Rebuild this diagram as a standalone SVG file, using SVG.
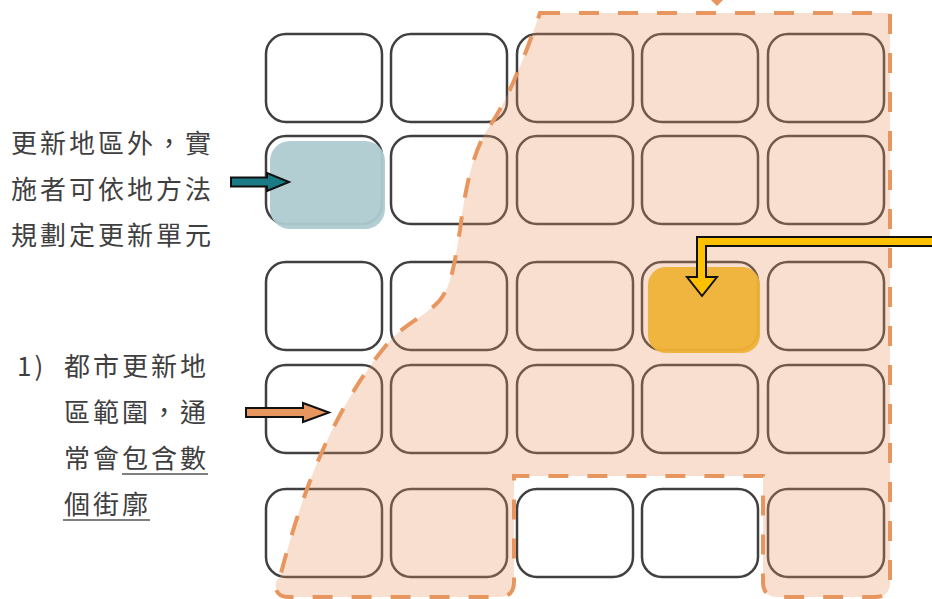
<svg xmlns="http://www.w3.org/2000/svg" width="932" height="599" viewBox="0 0 932 599" xml:lang="zh-TW" lang="zh-TW">
<style>
.box{fill:#ffffff;stroke:#404040;stroke-width:2.5}
.lbl{font-family:"Noto Sans CJK TC","Noto Sans CJK SC",sans-serif;font-size:26px;font-weight:400;fill:#3f3f3f;letter-spacing:3px}
.ul{stroke:#555555;stroke-width:1.6}
.arr{stroke:#111111;stroke-width:2;stroke-linejoin:miter}
</style>
<rect width="932" height="599" fill="#ffffff"/>
<g id="grid">
<g id="b11"><rect class="box" x="266" y="34" width="116" height="88" rx="20"/></g>
<g id="b12"><rect class="box" x="391" y="34" width="116" height="88" rx="20"/></g>
<g id="b13"><rect class="box" x="517" y="34" width="116" height="88" rx="20"/></g>
<g id="b14"><rect class="box" x="642" y="34" width="116" height="88" rx="20"/></g>
<g id="b15"><rect class="box" x="768" y="34" width="116" height="88" rx="20"/></g>
<g id="b21"><rect class="box" x="266" y="136" width="116" height="88" rx="20"/><rect x="270" y="141" width="115" height="88" rx="20" fill="#afcbd0" opacity="0.95"/></g>
<g id="b22"><rect class="box" x="391" y="136" width="116" height="88" rx="20"/></g>
<g id="b23"><rect class="box" x="517" y="136" width="116" height="88" rx="20"/></g>
<g id="b24"><rect class="box" x="642" y="136" width="116" height="88" rx="20"/></g>
<g id="b25"><rect class="box" x="768" y="136" width="116" height="88" rx="20"/></g>
<g id="b31"><rect class="box" x="266" y="262" width="116" height="88" rx="20"/></g>
<g id="b32"><rect class="box" x="391" y="262" width="116" height="88" rx="20"/></g>
<g id="b33"><rect class="box" x="517" y="262" width="116" height="88" rx="20"/></g>
<g id="b34"><rect class="box" x="642" y="262" width="116" height="88" rx="20"/></g>
<g id="b35"><rect class="box" x="768" y="262" width="116" height="88" rx="20"/></g>
<g id="b41"><rect class="box" x="266" y="365" width="116" height="88" rx="20"/></g>
<g id="b42"><rect class="box" x="391" y="365" width="116" height="88" rx="20"/></g>
<g id="b43"><rect class="box" x="517" y="365" width="116" height="88" rx="20"/></g>
<g id="b44"><rect class="box" x="642" y="365" width="116" height="88" rx="20"/></g>
<g id="b45"><rect class="box" x="768" y="365" width="116" height="88" rx="20"/></g>
<g id="b51"><rect class="box" x="266" y="489" width="116" height="88" rx="20"/></g>
<g id="b52"><rect class="box" x="391" y="489" width="116" height="88" rx="20"/></g>
<g id="b53"><rect class="box" x="517" y="489" width="116" height="88" rx="20"/></g>
<g id="b54"><rect class="box" x="642" y="489" width="116" height="88" rx="20"/></g>
<g id="b55"><rect class="box" x="768" y="489" width="116" height="88" rx="20"/></g>
</g>
<g id="region">
<path d="M 540,13 L 890,13 L 890,582 Q 890,597 875,597 L 778,597 Q 763,597 763,582 L 763,476 L 514,476 L 514,582 Q 514,597 499,597 L 289,597 Q 274,597 276,582 L 280,577 C 300,500 330,410 393,337 C 410,322 430,312 440,300 C 452,285 455,260 460,230 C 465,190 472,155 487,130 C 505,105 520,70 540,13 Z" fill="#e8965f" fill-opacity="0.3" stroke="#e8965f" stroke-width="4" stroke-dasharray="20 19"/>
<polygon points="711,0 723,0 717,6" fill="#e8965f"/>
</g>
<g id="highlight">
<rect x="648" y="267" width="112" height="86" rx="18" fill="#efb236" opacity="0.95"/>
</g>
<g id="connectors">
<polygon class="arr" points="231,177.5 267,177.5 267,173 289,182 267,191 267,186.5 231,186.5" fill="#1a7a85"/>
<polygon class="arr" points="246,408 303,408 303,403 329,412.5 303,422 303,417 246,417" fill="#e8965f"/>
<polygon class="arr" points="933,237 697,237 697,277 687,277 702,296 717,277 706,277 706,246 933,246" fill="#ffc000"/>
</g>
<g id="label-outside">
<text class="lbl" x="11" y="153">更新地區外，實</text>
<text class="lbl" x="11" y="199">施者可依地方法</text>
<text class="lbl" x="11" y="245">規劃定更新單元</text>
</g>
<g id="label-area">
<text class="lbl" x="17" y="376">1)</text>
<text class="lbl" x="64" y="376">都市更新地</text>
<text class="lbl" x="64" y="422">區範圍，通</text>
<text class="lbl" x="64" y="468">常會包含數</text>
<text class="lbl" x="64" y="514">個街廓</text>
<line class="ul" x1="122" y1="474" x2="208" y2="474"/>
<line class="ul" x1="63" y1="520" x2="150" y2="520"/>
</g>
</svg>
